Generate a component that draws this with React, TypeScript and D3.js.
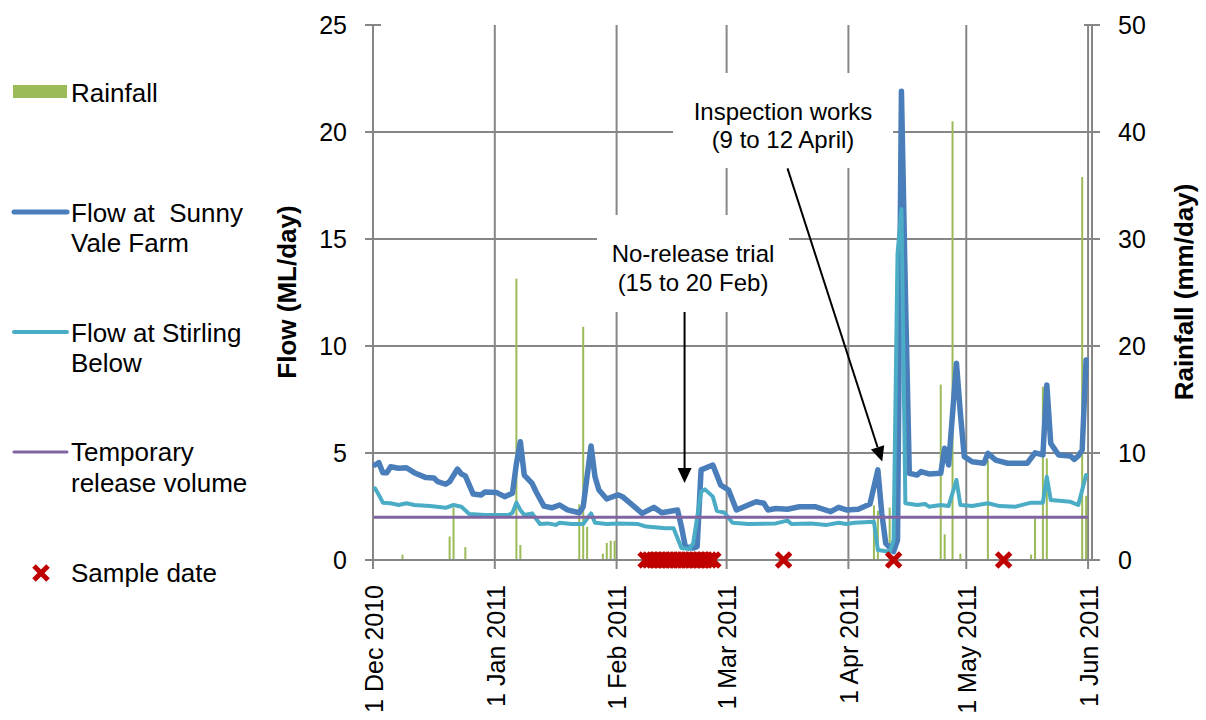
import React from 'react'
import * as d3 from 'd3'

// days counted from 1 Dec 2010 (daily readings)
const sunnyDay = [0,1,2,3,4,6,8,10,13,15,16,18,19,21,22,23,25,27,28,31,33,35,36,37,38,40,41,43,45,47,49,52,53,55,56,57,59,61,62,63,66,68,71,73,77,78,79,81,82,83,86,88,90,92,95,97,99,100,102,105,108,112,116,118,120,123,126,128,129,130,132,133,134,135,136,138,139,141,144,145,146,148,149,150,152,155,156,158,161,166,168,170,171,172,174,177,178,179,180,181]
const sunnyFlow = [4.44,4.55,4.08,4.08,4.36,4.29,4.31,4.08,3.85,3.83,3.66,3.54,3.66,4.25,4.02,3.93,3.08,3.04,3.18,3.15,2.96,3.12,4.5,5.53,3.97,3.58,3.19,2.52,2.44,2.57,2.34,2.21,2.49,5.33,3.89,3.27,2.85,2.99,3.04,2.96,2.49,2.18,2.46,2.21,2.34,1.56,0.62,0.56,0.62,4.21,4.44,3.5,3.27,2.34,2.57,2.72,2.65,2.34,2.41,2.37,2.49,2.49,2.26,2.46,2.34,2.37,2.62,4.21,2.18,0.78,0.39,0.93,21.9,12.5,4.05,3.97,4.13,4.02,4.05,5.22,4.44,9.19,6.86,4.83,4.59,4.52,4.98,4.67,4.52,4.52,5.01,4.91,8.18,5.45,4.91,4.86,4.7,4.86,5.14,9.35]

const stirlingDay = [0,1,2,4,6,8,10,14,18,20,22,24,28,31,34,35,36,37,38,40,42,44,46,47,50,53,55,56,59,62,67,69,74,76,78,80,81,83,84,86,87,89,91,95,102,105,106,111,115,118,120,122,127,128,131,132,133,134,135,138,140,141,144,146,148,149,152,156,159,163,167,170,171,172,177,179,181]
const stirlingFlow = [3.35,3.04,2.68,2.65,2.57,2.65,2.57,2.52,2.44,2.57,2.49,2.15,2.1,2.1,2.1,2.21,2.68,2.34,2.1,2.18,1.68,1.71,1.64,1.74,1.68,1.68,2.18,1.74,1.68,1.71,1.68,1.56,1.48,1.48,0.56,0.51,0.79,3.19,3.3,2.96,2.3,2.21,1.74,1.68,1.71,1.84,1.68,1.71,1.64,1.74,1.68,1.74,1.79,0.47,0.39,0.93,14.3,16.4,2.65,2.57,2.62,2.49,2.57,2.52,3.74,2.57,2.52,2.65,2.52,2.49,2.68,2.68,3.89,2.8,2.72,2.57,3.97]

const releaseDay = [0, 181]
const releaseFlow = [2, 2]

const rainDay = [7,19,20,23,36,37,52,53,54,58,59,60,61,127,128,131,144,145,147,149,156,167,168,170,171,180,181]
const rainMm = [0.5,2.2,4.9,1.2,26.3,1.4,5.2,21.8,3.1,0.6,1.6,1.8,1.8,5.1,4.6,4.9,16.4,2.4,41.0,0.6,9.3,0.5,3.9,16.2,9.5,35.8,6.0]

const sampleDates = ['2011-02-08','2011-02-09','2011-02-10','2011-02-11','2011-02-12','2011-02-13','2011-02-14','2011-02-15','2011-02-16','2011-02-17','2011-02-18','2011-02-19','2011-02-20','2011-02-21','2011-02-22','2011-02-23','2011-02-24','2011-02-25','2011-03-15','2011-04-12','2011-05-10']

const monthTicks = ['2010-12-01','2011-01-01','2011-02-01','2011-03-01','2011-04-01','2011-05-01','2011-06-01']
const flowTicks = [0, 5, 10, 15, 20, 25]
const rainTicks = [0, 10, 20, 30, 40, 50]

const FONT = "'Liberation Sans', Arial, Helvetica, sans-serif"
const GRID = '#868686'
const C_SUNNY = '#4A7EBB'
const C_STIRLING = '#4BACC6'
const C_RELEASE = '#8064A2'
const C_RAIN = '#9BBB59'
const C_SAMPLE = '#C00000'

const start = Date.UTC(2010, 11, 1)
const dayDate = (d: number) => new Date(start + (d + 0.5) * 864e5)
const iso = (s: string) => new Date(s + 'T00:00:00Z')

const x = d3.scaleUtc().domain([new Date(start), iso('2011-06-02')]).range([373, 1092])
const yL = d3.scaleLinear().domain([0, 25]).range([560, 25])
const yR = d3.scaleLinear().domain([0, 50]).range([560, 25])
const fmt = d3.utcFormat('%-d %b %Y')

const flowLine = d3.line<[number, number]>().x(d => x(dayDate(d[0]))).y(d => yL(d[1]))

function Arrow({ x1, y1, x2, y2 }: { x1: number; y1: number; x2: number; y2: number }) {
  const a = Math.atan2(y2 - y1, x2 - x1)
  const len = 15, half = 7
  const bx = x2 - len * Math.cos(a), by = y2 - len * Math.sin(a)
  const p1 = [bx + half * Math.sin(a), by - half * Math.cos(a)]
  const p2 = [bx - half * Math.sin(a), by + half * Math.cos(a)]
  return (
    <g>
      <line x1={x1} y1={y1} x2={bx} y2={by} stroke="#000" strokeWidth={2} />
      <path d={`M${x2},${y2}L${p1[0]},${p1[1]}L${p2[0]},${p2[1]}Z`} fill="#000" />
    </g>
  )
}

export default function App() {
  const sunny = d3.zip(sunnyDay, sunnyFlow) as [number, number][]
  const stirling = d3.zip(stirlingDay, stirlingFlow) as [number, number][]
  const release = d3.zip(releaseDay, releaseFlow) as [number, number][]
  const months = monthTicks.map(iso)
  const xl = x.range()[0], xr = x.range()[1]
  const halfDay = (x(iso('2010-12-02')) - x(iso('2010-12-01'))) / 2

  const legendText = { fontFamily: FONT, fontSize: 26, fill: '#000', style: { whiteSpace: 'pre' as const } }

  return (
    <div style={{ position: 'absolute', left: 0, top: 0 }}>
      <svg width={1206} height={720} style={{ display: 'block', background: '#fff' }}>
        {/* gridlines */}
        {flowTicks.slice(1, -1).map(v => (
          <line key={'h' + v} x1={xl} x2={xr} y1={yL(v)} y2={yL(v)} stroke={GRID} strokeWidth={2} />
        ))}
        {months.slice(1).map((m, i) => (
          <line key={'v' + i} x1={x(m)} x2={x(m)} y1={yL(25)} y2={yL(0)} stroke={GRID} strokeWidth={2} />
        ))}

        {/* annotation backgrounds */}
        <rect x={597} y={215} width={192} height={97} fill="#fff" />
        <rect x={673} y={73} width={220} height={95} fill="#fff" />

        {/* rainfall */}
        {rainDay.map((d, i) => (
          <rect key={'r' + i} x={x(dayDate(d)) - 1} width={2} y={yR(rainMm[i])} height={yR(0) - yR(rainMm[i])} fill={C_RAIN} />
        ))}

        {/* axes */}
        <line x1={xl} x2={xl} y1={yL(25)} y2={yL(0)} stroke={GRID} strokeWidth={2} />
        <line x1={xr} x2={xr} y1={yL(25)} y2={yL(0)} stroke={GRID} strokeWidth={2} />
        <line x1={xl} x2={xr} y1={yL(0)} y2={yL(0)} stroke={GRID} strokeWidth={2} />
        {flowTicks.map(v => (
          <line key={'lt' + v} x1={xl - 8} x2={xl + 8} y1={yL(v)} y2={yL(v)} stroke={GRID} strokeWidth={2} />
        ))}
        {rainTicks.map(v => (
          <line key={'rt' + v} x1={xr - 8} x2={xr + 8} y1={yR(v)} y2={yR(v)} stroke={GRID} strokeWidth={2} />
        ))}
        {months.map((m, i) => (
          <line key={'bt' + i} x1={x(m)} x2={x(m)} y1={yL(0)} y2={yL(0) + 9} stroke={GRID} strokeWidth={2} />
        ))}

        {/* flow lines */}
        <path d={flowLine(sunny) || ''} fill="none" stroke={C_SUNNY} strokeWidth={5.5} strokeLinejoin="round" strokeLinecap="round" />
        <path d={flowLine(stirling) || ''} fill="none" stroke={C_STIRLING} strokeWidth={4} strokeLinejoin="round" strokeLinecap="round" />
        <path d={flowLine(release) || ''} fill="none" stroke={C_RELEASE} strokeWidth={3} strokeLinecap="square" />

        {/* sample dates */}
        {sampleDates.map((s, i) => {
          const cx = x(iso(s)) + halfDay
          const cy = yL(0)
          return (
            <path key={'s' + i} d={`M${cx - 7},${cy - 7}L${cx + 7},${cy + 7}M${cx - 7},${cy + 7}L${cx + 7},${cy - 7}`} stroke={C_SAMPLE} strokeWidth={5} />
          )
        })}

        {/* tick labels */}
        {flowTicks.map(v => (
          <text key={'ll' + v} x={347} y={yL(v)} dy="0.35em" textAnchor="end" fontFamily={FONT} fontSize={25}>{v}</text>
        ))}
        {rainTicks.map(v => (
          <text key={'rl' + v} x={1118} y={yR(v)} dy="0.35em" textAnchor="start" fontFamily={FONT} fontSize={25}>{v}</text>
        ))}
        {months.map((m, i) => (
          <text key={'ml' + i} transform={`translate(${x(m) + 1},585) rotate(-90)`} dy="0.35em" textAnchor="end" fontFamily={FONT} fontSize={25}>{fmt(m)}</text>
        ))}

        {/* axis titles */}
        <text transform={`translate(287,292) rotate(-90)`} dy="0.35em" textAnchor="middle" fontFamily={FONT} fontSize={26} fontWeight="bold">Flow (ML/day)</text>
        <text transform={`translate(1184,292) rotate(-90)`} dy="0.35em" textAnchor="middle" fontFamily={FONT} fontSize={26} fontWeight="bold">Rainfall (mm/day)</text>

        {/* annotations */}
        <text x={693} y={262} textAnchor="middle" fontFamily={FONT} fontSize={24}>No-release trial</text>
        <text x={693} y={291} textAnchor="middle" fontFamily={FONT} fontSize={24}>(15 to 20 Feb)</text>
        <Arrow x1={x(dayDate(78.8))} y1={312} x2={x(dayDate(78.8))} y2={yL(3.6)} />
        <text x={783} y={120} textAnchor="middle" fontFamily={FONT} fontSize={24}>Inspection works</text>
        <text x={783} y={148} textAnchor="middle" fontFamily={FONT} fontSize={24}>(9 to 12 April)</text>
        <Arrow x1={x(dayDate(105))} y1={yL(18.3)} x2={x(dayDate(129.1))} y2={yL(4.6)} />

        {/* legend */}
        <rect x={13} y={85} width={54} height={13} fill={C_RAIN} />
        <text x={71} y={93} dy="0.35em" {...legendText}>Rainfall</text>

        <line x1={14} x2={67} y1={212} y2={212} stroke={C_SUNNY} strokeWidth={5} strokeLinecap="round" />
        <text x={71} y={213} dy="0.35em" {...legendText}>Flow at  Sunny</text>
        <text x={71} y={243} dy="0.35em" {...legendText}>Vale Farm</text>

        <line x1={14} x2={67} y1={332} y2={332} stroke={C_STIRLING} strokeWidth={4} strokeLinecap="round" />
        <text x={71} y={333} dy="0.35em" {...legendText}>Flow at Stirling</text>
        <text x={71} y={363} dy="0.35em" {...legendText}>Below</text>

        <line x1={14} x2={67} y1={452} y2={452} stroke={C_RELEASE} strokeWidth={3} strokeLinecap="round" />
        <text x={71} y={452} dy="0.35em" {...legendText}>Temporary</text>
        <text x={71} y={483} dy="0.35em" {...legendText}>release volume</text>

        <path d="M34,566L48,580M34,580L48,566" stroke={C_SAMPLE} strokeWidth={5} />
        <text x={71} y={573} dy="0.35em" {...legendText}>Sample date</text>
      </svg>
    </div>
  )
}
